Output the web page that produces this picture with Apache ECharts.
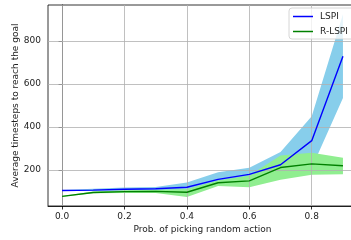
<!DOCTYPE html>
<html>
<head>
<meta charset="utf-8">
<script src="https://cdn.jsdelivr.net/npm/echarts@6/dist/echarts.min.js"></script>
<style>
    html, body { margin: 0; padding: 0; background: #fff; }
    #chart { width: 351px; height: 240px; }
</style>
</head>
<body>
<div id="chart"></div>
<script>
// probabilities on the x axis
var probs = [0.0, 0.1, 0.2, 0.3, 0.4, 0.5, 0.6, 0.7, 0.8, 0.9]
// LSPI mean and band
var lspi = [105, 107, 111, 113, 120, 157, 180, 225, 337, 730]
var lspiLow = [103, 104, 105, 106, 100, 135, 155, 185, 210, 535]
var lspiHigh = [108, 113, 119, 121, 142, 190, 211, 284, 450, 925]
// R-LSPI mean and band
var rlspi = [78, 96, 100, 101, 97, 141, 150, 212, 229, 220]
var rlspiLow = [76, 92, 94, 93, 75, 126, 120, 155, 178, 181]
var rlspiHigh = [80, 100, 106, 108, 112, 152, 175, 268, 281, 258]
// tick labels
var xTicks = [0.0, 0.2, 0.4, 0.6, 0.8]
var yTicks = [200, 400, 600, 800]

var font = 'DejaVu Sans'
var textColor = '#222'

function pairs(ys) {
    return probs.map(function (x, i) { return [x, ys[i]] })
}

// filled band between low and high, drawn as one polygon
function band(name, low, high, color, z) {
    return {
        name: name,
        type: 'custom',
        z: z,
        silent: true,
        clip: true,
        data: probs.map(function (x, i) { return [x, low[i], high[i]] }),
        encode: { x: 0, y: [1, 2] },
        renderItem: function (params, api) {
            if (params.dataIndex !== 0) return
            var pts = []
            for (var i = 0; i < probs.length; i++) pts.push(api.coord([probs[i], high[i]]))
            for (var j = probs.length - 1; j >= 0; j--) pts.push(api.coord([probs[j], low[j]]))
            return {
                type: 'polygon',
                shape: { points: pts },
                style: { fill: color, stroke: null }
            }
        }
    }
}

var gridLines = []
xTicks.forEach(function (v) { gridLines.push({ xAxis: v }) })
yTicks.forEach(function (v) { gridLines.push({ yAxis: v }) })

var myChart = echarts.init(document.getElementById('chart'))
var option = {
    animation: false,
    textStyle: { fontFamily: font },
    grid: {
        left: 48,
        right: -6,
        top: 5,
        bottom: 34,
        outerBoundsMode: 'none',
        containLabel: false,
        show: true,
        borderColor: '#000',
        borderWidth: 0.8
    },
    legend: {
        orient: 'vertical',
        left: 289,
        top: 8,
        padding: [3, 8, 2, 4],
        itemGap: 4,
        itemWidth: 20,
        itemHeight: 1.5,
        icon: 'rect',
        backgroundColor: 'rgba(255,255,255,0.8)',
        borderColor: '#ccc',
        borderWidth: 0.8,
        borderRadius: 3,
        textStyle: { fontFamily: font, fontSize: 9, lineHeight: 11, color: textColor, padding: [0, 0, 0, 2] },
        data: ['LSPI', 'R-LSPI']
    },
    xAxis: {
        type: 'value',
        min: -0.045,
        max: 0.945,
        name: 'Prob. of picking random action',
        nameLocation: 'middle',
        nameGap: 19,
        nameMoveOverlap: false,
        nameTextStyle: { fontFamily: font, fontSize: 9, color: textColor },
        axisLine: { show: true, lineStyle: { color: '#000', width: 0.8 } },
        axisTick: { show: true, length: 3.5, customValues: xTicks, lineStyle: { color: '#000', width: 0.8 } },
        axisLabel: {
            customValues: xTicks,
            margin: 6,
            fontFamily: font,
            fontSize: 9,
            color: textColor,
            formatter: function (v) { return v.toFixed(1) }
        },
        splitLine: { show: false }
    },
    yAxis: {
        type: 'value',
        min: 33,
        max: 968,
        name: 'Average timesteps to reach the goal',
        nameLocation: 'middle',
        nameGap: 28,
        nameMoveOverlap: false,
        nameTextStyle: { fontFamily: font, fontSize: 9, color: textColor },
        axisLine: { show: true, lineStyle: { color: '#000', width: 0.8 } },
        axisTick: { show: true, length: 3.5, customValues: yTicks, lineStyle: { color: '#000', width: 0.8 } },
        axisLabel: {
            customValues: yTicks,
            margin: 7,
            fontFamily: font,
            fontSize: 9,
            color: textColor
        },
        splitLine: { show: false }
    },
    series: [
        band('LSPI band', lspiLow, lspiHigh, '#87ceeb', 1),
        band('R-LSPI band', rlspiLow, rlspiHigh, '#90ee90', 2),
        {
            // grid lines sit above the bands and below the lines, like matplotlib
            name: 'grid',
            type: 'line',
            data: [],
            z: 3,
            silent: true,
            markLine: {
                z: 3,
                silent: true,
                symbol: ['none', 'none'],
                label: { show: false },
                lineStyle: { color: '#b0b0b0', width: 0.8, type: 'solid' },
                emphasis: { disabled: true },
                data: gridLines
            }
        },
        {
            name: 'LSPI',
            type: 'line',
            z: 4,
            data: pairs(lspi),
            color: '#0000ff',
            symbol: 'none',
            lineStyle: { width: 1.4, color: '#0000ff' }
        },
        {
            name: 'R-LSPI',
            type: 'line',
            z: 4,
            data: pairs(rlspi),
            color: '#008000',
            symbol: 'none',
            lineStyle: { width: 1.4, color: '#008000' }
        }
    ]
}
myChart.setOption(option)
</script>
</body>
</html>
